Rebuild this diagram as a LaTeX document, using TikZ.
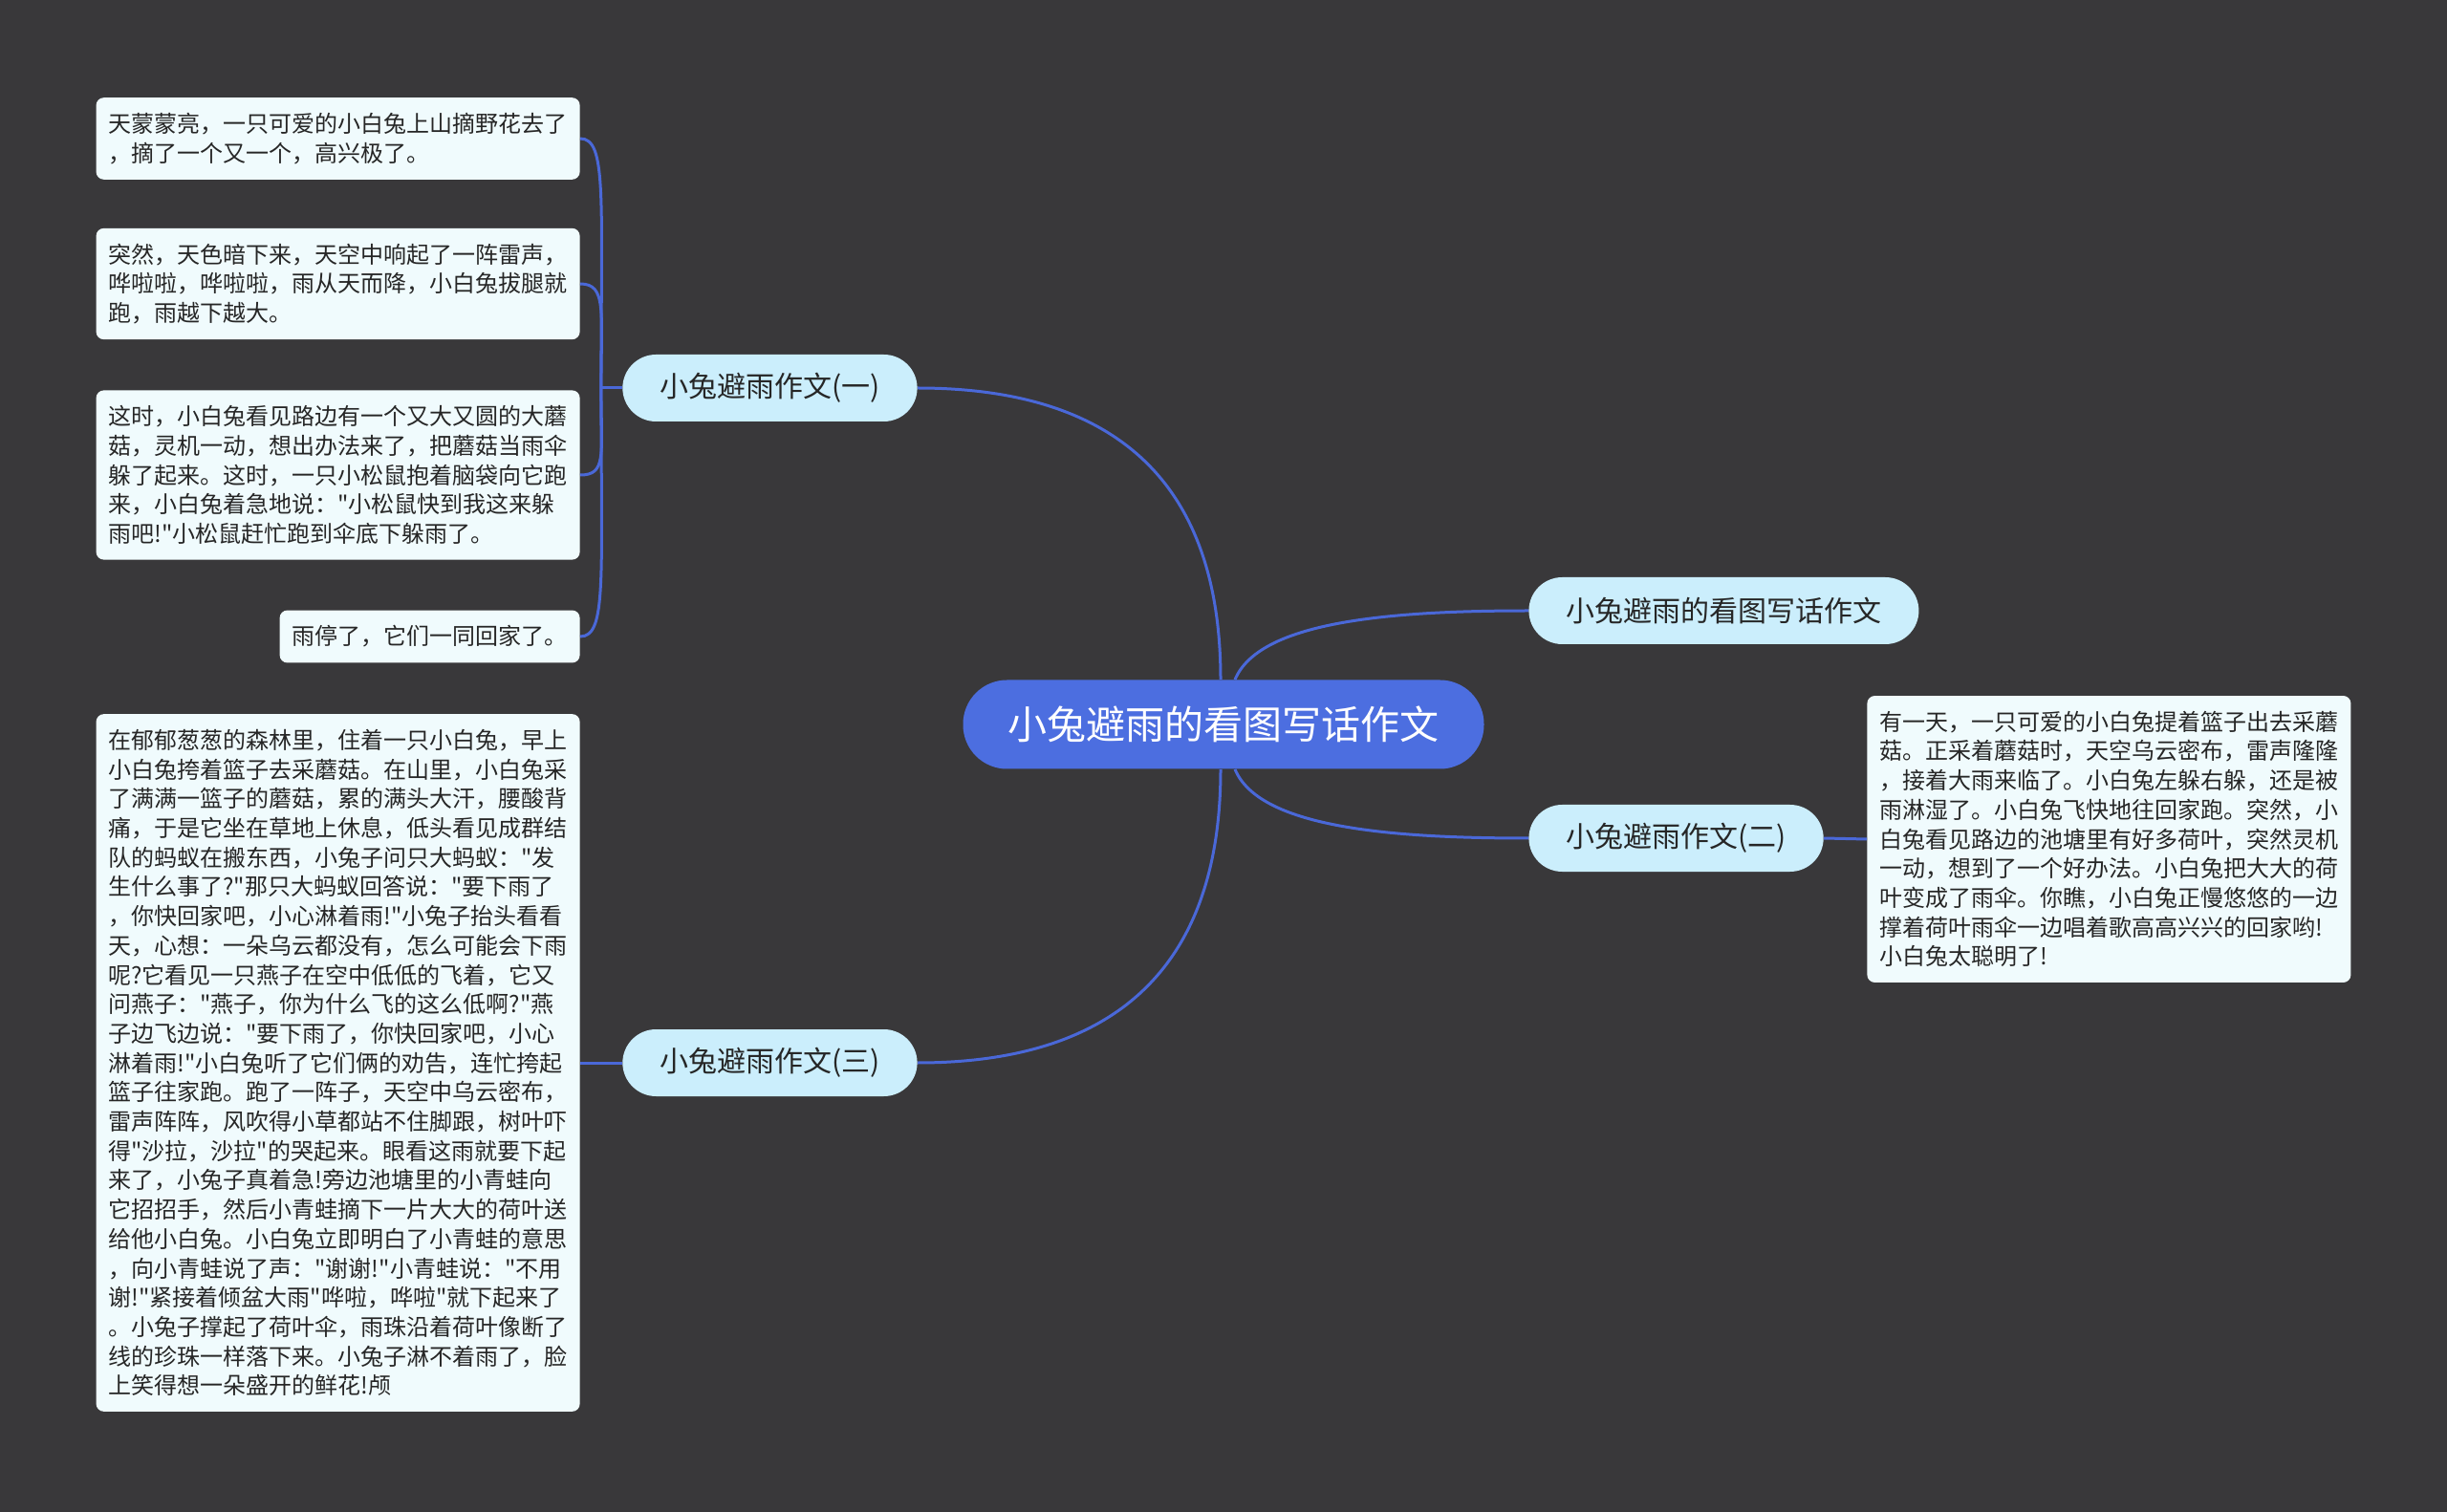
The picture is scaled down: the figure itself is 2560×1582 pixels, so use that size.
\documentclass[tikz,border=0pt]{standalone}
\usepackage{fontspec}
\newfontfamily\cjkfont{Noto Sans CJK SC}
\usepackage{xcolor}
\usetikzlibrary{calc}

\definecolor{bgdark}{HTML}{39383A}
\definecolor{rootblue}{HTML}{4C6EE0}
\definecolor{linkblue}{HTML}{4A68D8}
\definecolor{branchfill}{HTML}{CBEEFC}
\definecolor{leaffill}{HTML}{F0FBFD}
\definecolor{inkdark}{HTML}{262626}

\begin{document}
\begin{tikzpicture}[x=0.5pt, y=-0.5pt,
    root/.style={fill=rootblue, text=white, rounded corners=23pt, minimum height=46.5pt,
      inner xsep=23.5pt, font=\cjkfont\fontsize{20.5pt}{24pt}\selectfont},
    branch/.style={fill=branchfill, text=inkdark, rounded corners=17.5pt, minimum height=35pt,
      inner xsep=19.5pt, font=\cjkfont\fontsize{15pt}{18pt}\selectfont},
    leaf/.style={fill=leaffill, text=inkdark, rounded corners=4pt, inner xsep=6.5pt, inner ysep=8pt,
      align=left, font=\cjkfont\fontsize{12pt}{15.35pt}\selectfont},
    wide/.style={leaf, text width=240pt},
    link/.style={draw=linkblue, line width=1.5pt}]
% canvas in pixels of the reference (2560 x 1582), y downwards
\fill[bgdark] (0,0) rectangle (2560,1582);
\useasboundingbox (0,0) rectangle (2560,1582);

\node[root] (root) at (1280,758) {小兔避雨的看图写话作文};

\node[branch, anchor=east] (b1) at (960,406) {小兔避雨作文(一)};
\node[branch, anchor=east] (b3) at (960,1112) {小兔避雨作文(三)};
\node[branch, anchor=west] (rb) at (1599,639) {小兔避雨的看图写话作文};
\node[branch, anchor=west] (b2) at (1599,877) {小兔避雨作文(二)};

% leaves of (一)
\node[wide, anchor=east] (l1) at (607,145) {天蒙蒙亮，一只可爱的小白兔上山摘野花去了\\，摘了一个又一个，高兴极了。};
\node[wide, anchor=east] (l2) at (607,297) {突然，天色暗下来，天空中响起了一阵雷声，\\哗啦啦，哗啦啦，雨从天而降，小白兔拔腿就\\跑，雨越下越大。};
\node[wide, anchor=east] (l3) at (607,497) {这时，小白兔看见路边有一个又大又圆的大蘑\\菇，灵机一动，想出办法来了，把蘑菇当雨伞\\躲了起来。这时，一只小松鼠抱着脑袋向它跑\\来，小白兔着急地说："小松鼠快到我这来躲\\雨吧!"小松鼠赶忙跑到伞底下躲雨了。};
\node[leaf, anchor=east] (l4) at (607,666) {雨停了，它们一同回家了。};

% leaf of (三)
\node[wide, anchor=east] (l5) at (607,1112) {在郁郁葱葱的森林里，住着一只小白兔，早上\\小白兔挎着篮子去采蘑菇。在山里，小白兔采\\了满满一篮子的蘑菇，累的满头大汗，腰酸背\\痛，于是它坐在草地上休息，低头看见成群结\\队的蚂蚁在搬东西，小兔子问只大蚂蚁："发\\生什么事了?"那只大蚂蚁回答说："要下雨了\\，你快回家吧，小心淋着雨!"小兔子抬头看看\\天，心想：一朵乌云都没有，怎么可能会下雨\\呢?它看见一只燕子在空中低低的飞着，它又\\问燕子："燕子，你为什么飞的这么低啊?"燕\\子边飞边说："要下雨了，你快回家吧，小心\\淋着雨!"小白兔听了它们俩的劝告，连忙挎起\\篮子往家跑。跑了一阵子，天空中乌云密布，\\雷声阵阵，风吹得小草都站不住脚跟，树叶吓\\得"沙拉，沙拉"的哭起来。眼看这雨就要下起\\来了，小兔子真着急!旁边池塘里的小青蛙向\\它招招手，然后小青蛙摘下一片大大的荷叶送\\给他小白兔。小白兔立即明白了小青蛙的意思\\，向小青蛙说了声："谢谢!"小青蛙说："不用\\谢!"紧接着倾盆大雨"哗啦，哗啦"就下起来了\\。小兔子撑起了荷叶伞，雨珠沿着荷叶像断了\\线的珍珠一样落下来。小兔子淋不着雨了，脸\\上笑得想一朵盛开的鲜花!颅};

% leaf of (二)
\node[wide, anchor=west] (l6) at (1953,878) {有一天，一只可爱的小白兔提着篮子出去采蘑\\菇。正采着蘑菇时，天空乌云密布，雷声隆隆\\，接着大雨来临了。小白兔左躲右躲，还是被\\雨淋湿了。小白兔飞快地往回家跑。突然，小\\白兔看见路边的池塘里有好多荷叶，突然灵机\\一动，想到了一个好办法。小白兔把大大的荷\\叶变成了雨伞。你瞧，小白兔正慢悠悠的一边\\撑着荷叶雨伞一边唱着歌高高兴兴的回家哟!\\小白兔太聪明了!};

% root to branches
\draw[link] ([xshift=-1.5pt]root.north) .. controls +(0,-192) and +(222,0) .. (b1.east);
\draw[link] ([xshift=-1.5pt]root.south) .. controls +(0,192) and +(222,0) .. (b3.east);
\draw[link] ([xshift=6pt]root.north) .. controls +(25,-60) and +(-150,0) .. (rb.west);
\draw[link] ([xshift=6pt]root.south) .. controls +(25,60) and +(-150,0) .. (b2.west);

% branch (一) to its leaves
\coordinate (j1) at ([xshift=-11pt]b1.west);
\draw[link] (b1.west) -- (j1);
\foreach \lf/\dy in {l1/-200, l2/-80, l3/70, l4/200}
  \draw[link] (j1) .. controls +(0,\dy) and +(28,0) .. (\lf.east);

% single leaves
\draw[link] (b3.west) -- (l5.east);
\draw[link] (b2.east) -- (l6.west);
\end{tikzpicture}
\end{document}
